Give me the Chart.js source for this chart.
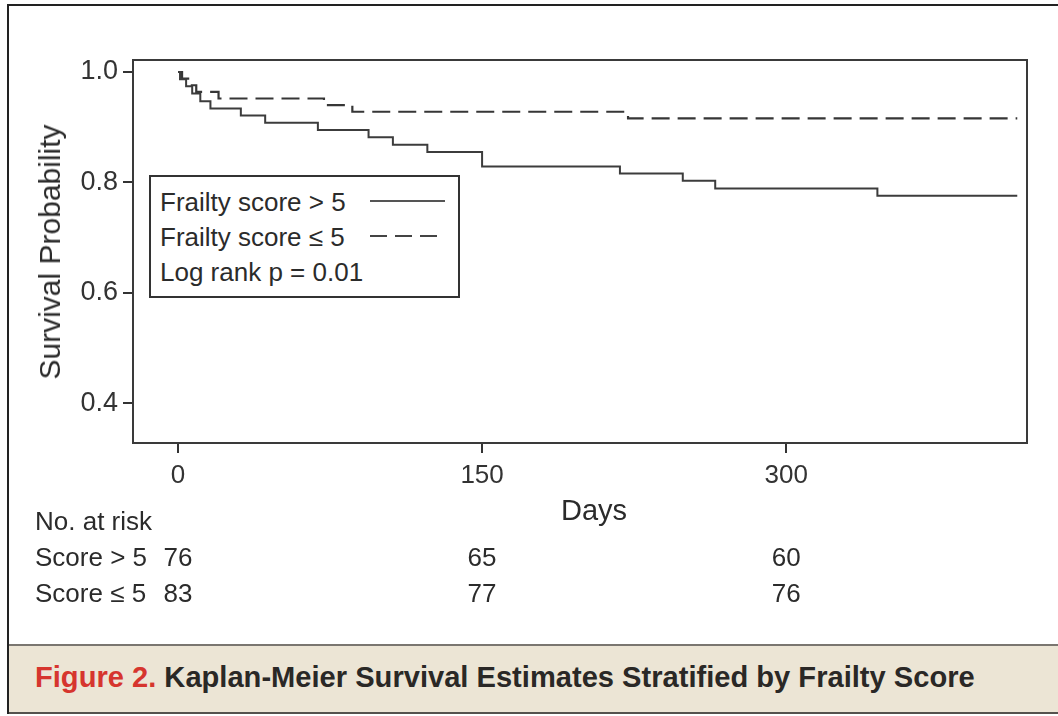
<!DOCTYPE html>
<html>
<head>
<meta charset="utf-8">
<script src="https://cdn.jsdelivr.net/npm/chart.js@4"></script>
<style>
  body { margin: 0; background: #fff; font-family: "Liberation Sans", Arial, sans-serif; color: #2b2b2b; }
  #page { position: relative; width: 1058px; height: 716px; overflow: hidden; }
  #plot { position: absolute; left: 0; top: 0; width: 1058px; height: 716px; }
  .t { position: absolute; white-space: nowrap; line-height: 1; }
  #frameTop  { position: absolute; left: 8px; top: 4px; width: 1050px; height: 2px; background: #222; }
  #frameLeft { position: absolute; left: 7px; top: 4px; width: 2px; height: 710px; background: #222; }
  #band { position: absolute; left: 9px; top: 644px; width: 1049px; height: 66px;
          background: #ece5d5; border-top: 2px solid #7a7670; border-bottom: 2px solid #55524d; }
  #caption { position: absolute; left: 35px; top: 662px; font-family: "Liberation Sans Narrow", "Liberation Sans", Arial, sans-serif;
             font-weight: bold; font-size: 30px; line-height: 1; white-space: nowrap; color: #2a2826; transform-origin: 0 0; }
  #caption .fig { color: #d6352e; }
  #legend { position: absolute; left: 149px; top: 175px; width: 307px; height: 119px; border: 2px solid #333; background: #fff; }
  #legend .row { position: absolute; left: 9px; font-size: 26px; line-height: 1; white-space: nowrap; }
  #legend svg { position: absolute; left: 0; top: 0; }
</style>
</head>
<body>
<div id="page">
  <div id="frameTop"></div>
  <div id="frameLeft"></div>
  <div id="plot"><canvas id="km"></canvas></div>

  <div id="legend">
    <div class="row" style="top:12px">Frailty score &gt; 5</div>
    <div class="row" style="top:47px">Frailty score ≤ 5</div>
    <div class="row" style="top:82px">Log rank p = 0.01</div>
    <svg width="307" height="119">
      <line x1="219" y1="24" x2="294" y2="24" stroke="#555" stroke-width="2"/>
      <line x1="219" y1="59" x2="290" y2="59" stroke="#444" stroke-width="2" stroke-dasharray="17,8"/>
    </svg>
  </div>

  <div class="t" id="ytitle" style="left:50px;top:252px;font-size:30px;transform:translate(-50%,-50%) rotate(-90deg);">Survival Probability</div>
  <div class="t" style="left:594px;top:496px;font-size:29px;transform:translateX(-50%);">Days</div>

  <div class="t" style="left:35px;top:508px;font-size:26px;">No. at risk</div>
  <div class="t" style="left:35px;top:544px;font-size:26px;">Score &gt; 5</div>
  <div class="t" style="left:35px;top:580px;font-size:26px;">Score ≤ 5</div>
  <div id="riskRows"></div>

  <div id="band"></div>
  <div id="caption"><span class="fig">Figure 2.</span> Kaplan-Meier Survival Estimates Stratified by Frailty Score</div>
</div>

<script>
// ── Data ─────────────────────────────────
const xTicks = [0, 150, 300];
const yTicks = [0.4, 0.6, 0.8, 1.0];

// Frailty score > 5 : event days and survival after each event
const hiDays = [0, 1, 4, 7, 11, 16, 31, 43, 69, 94, 106, 123, 150, 218, 249, 265, 345, 414];
const hiSurv = [1.0, 0.987, 0.974, 0.961, 0.947, 0.934, 0.921, 0.908, 0.895, 0.882, 0.868, 0.855, 0.829, 0.816, 0.803, 0.789, 0.776, 0.776];

// Frailty score <= 5
const loDays = [0, 2, 5, 9, 20, 72, 86, 222, 414];
const loSurv = [1.0, 0.988, 0.976, 0.964, 0.952, 0.940, 0.928, 0.916, 0.916];

// Numbers at risk
const riskDays = [0, 150, 300];
const riskHi   = [76, 65, 60];
const riskLo   = [83, 77, 76];

// ── Plot geometry ────────────────────────
const AREA = { left: 133, right: 1027, top: 60, bottom: 443 };
const X_MIN = -22.2, X_MAX = 418.8;
const Y_MIN = 0.328, Y_MAX = 1.0217;
const INK = "#333";

const toPts = (xs, ys) => xs.map((x, i) => ({ x, y: ys[i] }));

// box around the plotting area
const boxPlugin = {
  id: "box",
  afterDraw(chart) {
    const { ctx, chartArea: a } = chart;
    ctx.save();
    ctx.strokeStyle = "#3a3a3a";
    ctx.lineWidth = 2;
    ctx.strokeRect(a.left, a.top, a.right - a.left, a.bottom - a.top);
    ctx.restore();
  }
};

const chart = new Chart(document.getElementById("km"), {
  type: "line",
  data: {
    datasets: [
      {
        label: "Frailty score > 5",
        data: toPts(hiDays, hiSurv),
        borderColor: "#3c3c3c",
        borderWidth: 2,
        stepped: "before",
        pointRadius: 0,
        fill: false,
      },
      {
        label: "Frailty score ≤ 5",
        data: toPts(loDays, loSurv),
        borderColor: "#363636",
        borderWidth: 2.2,
        borderDash: [18, 8],
        stepped: "before",
        pointRadius: 0,
        fill: false,
      }
    ]
  },
  options: {
    responsive: true,
    maintainAspectRatio: false,
    animation: false,
    events: [],
    layout: { padding: { top: AREA.top, right: 1058 - AREA.right, left: 0, bottom: 0 } },
    plugins: { legend: { display: false }, tooltip: { enabled: false } },
    scales: {
      x: {
        type: "linear",
        min: X_MIN, max: X_MAX,
        afterBuildTicks: s => { s.ticks = xTicks.map(v => ({ value: v })); },
        afterFit: s => { s.height = 716 - AREA.bottom; },
        ticks: { color: INK, padding: 7, font: { family: "Liberation Sans", size: 26 }, maxRotation: 0,
                 callback: v => String(v) },
        grid: { drawOnChartArea: false, drawTicks: true, tickLength: 10, color: INK, lineWidth: 2 },
        border: { display: false }
      },
      y: {
        min: Y_MIN, max: Y_MAX,
        afterBuildTicks: s => { s.ticks = yTicks.map(v => ({ value: v })); },
        afterFit: s => { s.width = AREA.left; },
        ticks: { color: INK, padding: 5, font: { family: "Liberation Sans", size: 27 },
                 callback: v => Number(v).toFixed(1) },
        grid: { drawOnChartArea: false, drawTicks: true, tickLength: 10, color: INK, lineWidth: 2 },
        border: { display: false }
      }
    }
  },
  plugins: [boxPlugin]
});

// ── Numbers at risk, placed on the x scale ──
const rows = document.getElementById("riskRows");
[[riskHi, 544], [riskLo, 580]].forEach(([vals, top]) => {
  vals.forEach((n, i) => {
    const el = document.createElement("div");
    el.className = "t";
    el.style.cssText = `top:${top}px;font-size:26px;transform:translateX(-50%);`;
    el.style.left = chart.scales.x.getPixelForValue(riskDays[i]) + "px";
    el.textContent = n;
    rows.appendChild(el);
  });
});

// ── Fit caption to the printed width ─────
const cap = document.getElementById("caption");
cap.style.transform = `scaleX(${940 / cap.offsetWidth})`;
</script>
</body>
</html>
